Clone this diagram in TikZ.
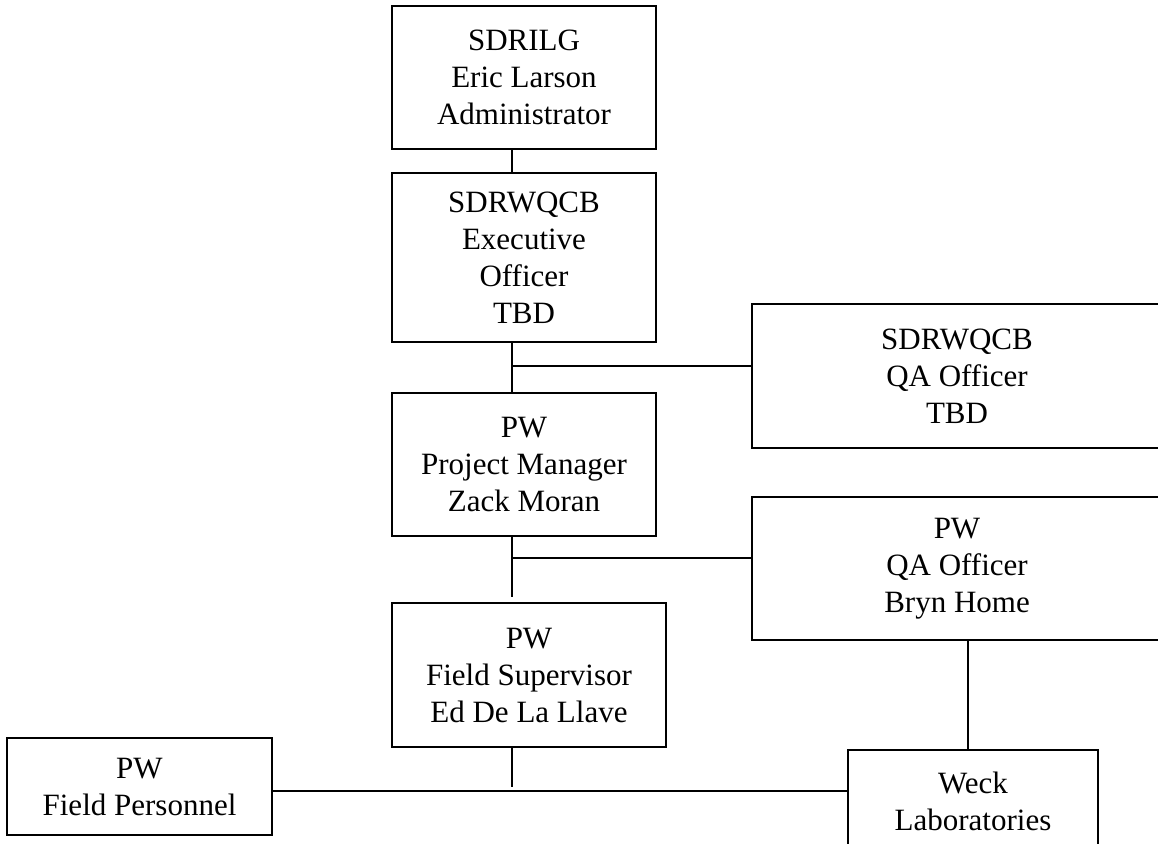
\documentclass[tikz,border=0pt]{standalone}
\usepackage{fontspec}
\setmainfont{Liberation Serif}
\usetikzlibrary{math}

\tikzset{
  orgbox/.style={draw, line width=1pt, align=center, inner sep=0pt,
    font=\fontsize{15.5}{18.5}\selectfont},
  link/.style={line width=1pt}
}

\begin{document}
\begin{tikzpicture}[x=0.5pt,y=-0.5pt]
\tikzmath{
\sx=512;
\qx=968;
}
\useasboundingbox (0,0) rectangle (1158,843);

% chain of command
\node[orgbox, minimum width=132pt, minimum height=71.5pt] (admin) at (524,77.5) {SDRILG\\Eric Larson\\Administrator};
\node[orgbox, minimum width=132pt, minimum height=84.5pt] (exec) at (524,257.5) {SDRWQCB\\Executive\\Officer\\TBD};
\node[orgbox, minimum width=132pt, minimum height=71.5pt] (pm) at (524,464.5) {PW\\Project Manager\\Zack Moran};
\node[orgbox, minimum width=137pt, minimum height=72pt] (fs) at (529,675) {PW\\Field Supervisor\\Ed De La Llave};

% side boxes
\node[orgbox, minimum width=205pt, minimum height=72pt] (rbqa) at (957,376) {SDRWQCB\\QA Officer\\TBD};
\node[orgbox, minimum width=205pt, minimum height=71.5pt] (pwqa) at (957,568.5) {PW\\QA Officer\\Bryn Home};
\node[orgbox, minimum width=132.5pt, minimum height=48.5pt] (fp) at (139.5,786.5) {PW\\Field Personnel};
\node[orgbox, minimum width=125pt, minimum height=51pt] (weck) at (973,801) {Weck\\Laboratories};

\coordinate (spine) at (\sx,0);
\coordinate (qadrop) at (\qx,0);
\coordinate (execjoin) at (\sx,366);
\coordinate (pmjoin) at (\sx,558);
\coordinate (fstop) at (\sx,597);
\coordinate (fsend) at (\sx,787);
\coordinate (labline) at (0,791);

\draw[link] (admin.south -| spine) -- (exec.north -| spine);
\draw[link] (exec.south -| spine) -- (pm.north -| spine);
\draw[link] (execjoin) -- (execjoin -| rbqa.west);
\draw[link] (pm.south -| spine) -- (fstop);
\draw[link] (pmjoin) -- (pmjoin -| pwqa.west);
\draw[link] (fs.south -| spine) -- (fsend);
\draw[link] (fp.east |- labline) -- (weck.west |- labline);
\draw[link] (pwqa.south -| qadrop) -- (weck.north -| qadrop);
\end{tikzpicture}
\end{document}
